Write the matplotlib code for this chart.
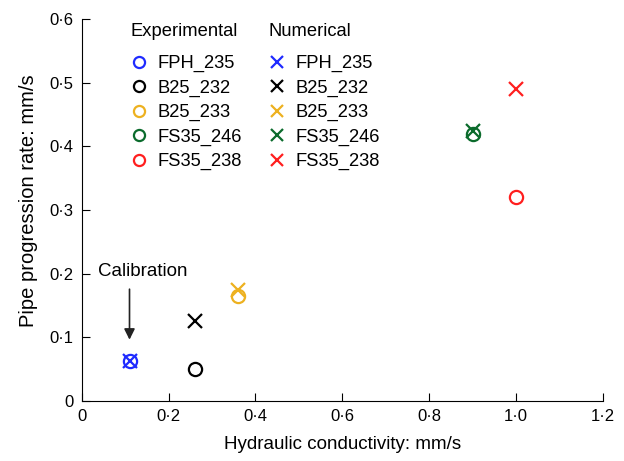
import matplotlib
matplotlib.use("Agg")
import matplotlib.pyplot as plt
from matplotlib.lines import Line2D
from matplotlib.ticker import FuncFormatter

plt.rcParams["font.family"] = ["Liberation Sans", "DejaVu Sans"]

# ── data ────────────────────────────────────────────────────────────────
samples = ["FPH_235", "B25_232", "B25_233", "FS35_246", "FS35_238"]
colors = ["#1f2bff", "#000000", "#edb120", "#0b6b2c", "#ff1f1f"]
conductivity = [0.11, 0.26, 0.36, 0.90, 1.00]
rate_exp = [0.063, 0.050, 0.165, 0.420, 0.320]
rate_num = [0.063, 0.125, 0.175, 0.424, 0.490]

fig = plt.figure(figsize=(6.24, 4.61), dpi=100)
ax = fig.add_axes([0.131, 0.130, 0.835, 0.829])

for x, ye, yn, c in zip(conductivity, rate_exp, rate_num, colors):
    ax.plot(x, ye, "o", ms=9.5, mfc="none", mec=c, mew=1.6)
    ax.plot(x, yn, "x", ms=9.5, mec=c, mew=1.6)

ax.set_xlim(0, 1.2)
ax.set_ylim(0, 0.6)
ax.set_xticks([0, 0.2, 0.4, 0.6, 0.8, 1.0, 1.2])
ax.set_yticks([0, 0.1, 0.2, 0.3, 0.4, 0.5, 0.6])
dot = FuncFormatter(lambda v, p: "0" if v == 0 else f"{v:.1f}".replace(".", "\u00b7"))
ax.xaxis.set_major_formatter(dot)
ax.yaxis.set_major_formatter(dot)
ax.tick_params(direction="in", length=6, width=0.8, labelsize=12, pad=6)
for s in ["top", "right"]:
    ax.spines[s].set_visible(False)

ax.set_xlabel("Hydraulic conductivity: mm/s", fontsize=13.5, labelpad=8)
ax.set_ylabel("Pipe progression rate: mm/s", fontsize=14.5, labelpad=8, y=0.524)

# calibration arrow
ax.text(0.14, 0.203, "Calibration", ha="center", va="center", fontsize=13.5)
ax.annotate("", xy=(0.11, 0.092), xytext=(0.11, 0.18),
            arrowprops=dict(arrowstyle="-|>", color="#222222", lw=1.2,
                            mutation_scale=16))

# legends (two columns, each with its own title)
exp_handles = [Line2D([], [], ls="none", marker="o", ms=8, mfc="none",
                      mec=c, mew=1.6) for c in colors]
num_handles = [Line2D([], [], ls="none", marker="x", ms=8.5, mec=c, mew=1.6)
               for c in colors]
leg_kw = dict(frameon=False, fontsize=13.2, title_fontsize=13.2,
              alignment="left", handlelength=0.9, handletextpad=0.55,
              labelspacing=0.4, borderpad=0, borderaxespad=0,
              loc="upper left")
leg1 = ax.legend(exp_handles, samples, title="Experimental",
                 bbox_to_anchor=(0.094, 0.99), **leg_kw)
leg1._legend_box.sep = 11
ax.add_artist(leg1)
leg2 = ax.legend(num_handles, samples, title="Numerical",
                 bbox_to_anchor=(0.359, 0.99), **leg_kw)
leg2._legend_box.sep = 11

fig.savefig("out.png", dpi=100)
